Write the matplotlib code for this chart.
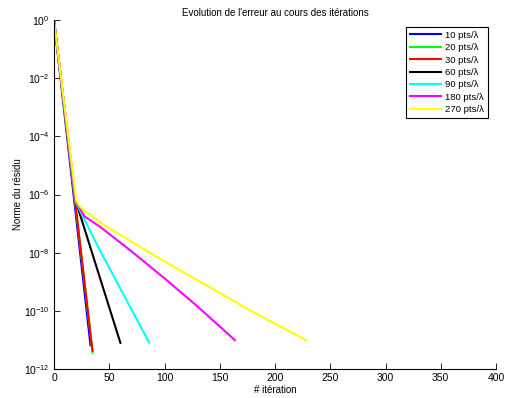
import numpy as np
import matplotlib
matplotlib.use("Agg")
import matplotlib.pyplot as plt

# points (itération, norme du résidu)
labels = ["10 pts/λ", "20 pts/λ", "30 pts/λ", "60 pts/λ", "90 pts/λ", "180 pts/λ", "270 pts/λ"]
colors = ["blue", "#00ff00", "red", "black", "cyan", "magenta", "yellow"]

it_10 = [0, 18, 33]
res_10 = [1.0, 7.9e-7, 6.6e-12]
it_20 = [0, 19, 35]
res_20 = [1.0, 6.3e-7, 3.6e-12]
it_30 = [0, 19, 34.8]
res_30 = [1.0, 6.3e-7, 4.2e-12]
it_60 = [0, 19.5, 60.1]
res_60 = [1.0, 6.3e-7, 7.9e-12]
it_90 = [0, 19.5, 41.4, 86.1]
res_90 = [1.0, 5.6e-7, 1.23e-8, 8.1e-12]
it_180 = [0, 19.5, 24, 27.8, 41.4, 70, 101.8, 130, 163.7]
res_180 = [1.0, 6.3e-7, 3.0e-7, 1.74e-7, 7.9e-8, 1.12e-8, 1.15e-9, 1.4e-10, 9.8e-12]
it_270 = [0, 20, 23.3, 28, 35.3, 41.4, 70, 100, 140, 177.3, 228]
res_270 = [1.0, 6.3e-7, 3.9e-7, 2.6e-7, 1.74e-7, 1.1e-7, 2.4e-8, 5.0e-9, 6.8e-10, 1.05e-10, 9.8e-12]

iters = [it_10, it_20, it_30, it_60, it_90, it_180, it_270]
residus = [res_10, res_20, res_30, res_60, res_90, res_180, res_270]

plt.rcParams['font.family'] = ['Liberation Sans', 'DejaVu Sans']
plt.rcParams['mathtext.fontset'] = 'custom'
plt.rcParams['mathtext.rm'] = 'Liberation Sans'
plt.rcParams['mathtext.it'] = 'Liberation Sans:italic'

fig = plt.figure(figsize=(5.08, 3.98), dpi=100)
ax = fig.add_axes([0.1063, 0.0729, 0.8701, 0.8768])

for x, y, c, lab in zip(iters, residus, colors, labels):
    ax.semilogy(x, y, color=c, lw=1.5, label=lab)

ax.set_xlim(0, 400)
ax.set_ylim(1e-12, 1)
ax.set_xticks(np.arange(0, 401, 50))
ax.set_yticks([10.0 ** k for k in range(-12, 1, 2)])
ax.minorticks_off()

for s in ["top", "right"]:
    ax.spines[s].set_visible(False)
for s in ["left", "bottom"]:
    ax.spines[s].set_linewidth(0.8)
ax.tick_params(direction="in", length=4, width=0.6, labelsize=7.5, pad=3)

ax.set_title("Evolution de l'erreur au cours des itérations", fontsize=7, pad=3)
ax.set_xlabel("# itération", fontsize=7, labelpad=1)
ax.set_ylabel("Norme du résidu", fontsize=7, labelpad=1)

leg = ax.legend(loc="upper right", bbox_to_anchor=(0.982, 0.98), borderaxespad=0,
                fontsize=6.8, handlelength=3.3, handletextpad=0.5, labelspacing=0.36,
                fancybox=False, framealpha=1, borderpad=0.4)
leg.get_frame().set_edgecolor("black")
leg.get_frame().set_linewidth(0.8)

fig.savefig("out.png", dpi=100)
